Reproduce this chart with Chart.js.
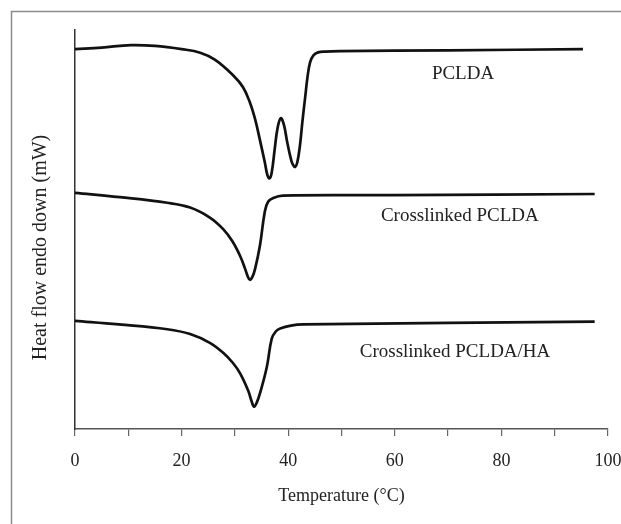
<!DOCTYPE html>
<html>
<head>
<meta charset="utf-8">
<script src="https://cdn.jsdelivr.net/npm/chart.js@4"></script>
<style>
  html, body { margin: 0; padding: 0; background: #fff; }
  canvas { display: block; }
</style>
</head>
<body>
<canvas id="dsc" width="621" height="524"></canvas>
<script>
// temperature (°C) and heat flow (arbitrary units, endo down)
const pcldaTemp = [0, 5, 10.5, 15, 20, 23.5, 26.3, 29.7, 31.5, 32.8, 33.8, 34.7, 35.6, 36.1, 36.5, 36.9, 37.5, 38.0, 38.6, 39.2, 39.8, 40.6, 41.0, 41.3, 41.7, 42.2, 42.7, 43.2, 43.6, 44.1, 44.7, 45.6, 47, 49.7, 70, 95.3];
const pcldaFlow = [95.2, 95.6, 96.2, 96.0, 95.2, 94.3, 92.5, 88.6, 85.7, 81.9, 77.6, 72.4, 66.9, 63.6, 62.8, 64.2, 70.5, 75.4, 77.9, 76.2, 72.0, 67.2, 66.0, 65.7, 66.8, 71.0, 77.5, 83.3, 88.0, 91.9, 93.6, 94.4, 94.6, 94.7, 94.9, 95.2];

const crossTemp = [0, 8.4, 17.3, 21.6, 25.3, 27.8, 29.5, 31.0, 31.9, 32.4, 32.8, 33.3, 33.8, 34.7, 35.6, 36.2, 37.2, 39, 60, 97.5];
const crossFlow = [59.2, 58.1, 56.7, 55.5, 53.0, 50.1, 47.1, 43.3, 40.2, 38.3, 37.4, 38.2, 40.2, 46.0, 54.4, 56.9, 57.9, 58.5, 58.6, 58.9];

const haTemp = [0, 8.2, 17.3, 21.6, 25.3, 27.8, 29.6, 31.0, 32.5, 33.1, 33.6, 34.1, 34.7, 36.0, 36.9, 37.7, 38.5, 40.5, 42.8, 97.5];
const haFlow = [27.1, 26.2, 25.0, 23.8, 21.6, 19.1, 16.6, 13.9, 9.6, 7.1, 5.6, 6.6, 8.9, 15.6, 22.6, 24.5, 25.2, 25.9, 26.2, 26.9];

const curveNames = ['PCLDA', 'Crosslinked PCLDA', 'Crosslinked PCLDA/HA'];
const labelTemp = [72.8, 72.2, 71.3];
const labelFlow = [89, 53.4, 19.3];

const yTitle = 'Heat flow endo down (mW)';
const serif = '"Liberation Serif", "DejaVu Serif", serif';

function toPoints(xs, ys) {
    return xs.map((x, i) => ({ x: x, y: ys[i] }));
}

// gray frame around the figure (left and top edges)
const framePlugin = {
    id: 'frame',
    beforeDraw(chart) {
        const ctx = chart.ctx;
        ctx.save();
        ctx.strokeStyle = '#8c8c8c';
        ctx.lineWidth = 1.5;
        ctx.beginPath();
        ctx.moveTo(11.5, chart.height);
        ctx.lineTo(11.5, 11.5);
        ctx.lineTo(chart.width, 11.5);
        ctx.stroke();
        ctx.restore();
    }
};

// curve names next to each trace + the y title (sits a bit below the axis middle)
const curveLabels = {
    id: 'curveLabels',
    afterDatasetsDraw(chart) {
        const ctx = chart.ctx;
        const xs = chart.scales.x, ys = chart.scales.y;
        ctx.save();
        ctx.font = '19px ' + serif;
        ctx.fillStyle = '#222';
        ctx.textAlign = 'center';
        ctx.textBaseline = 'middle';
        curveNames.forEach((name, i) => {
            ctx.fillText(name, xs.getPixelForValue(labelTemp[i]), ys.getPixelForValue(labelFlow[i]));
        });
        ctx.translate(41, (ys.top + ys.bottom) / 2 + 18);
        ctx.rotate(-Math.PI / 2);
        ctx.font = '20px ' + serif;
        ctx.fillText(yTitle, 0, 0);
        ctx.restore();
    }
};

const lineStyle = {
    borderColor: '#111',
    borderWidth: 2.7,
    pointRadius: 0,
    fill: false,
    tension: 0.4
};

new Chart(document.getElementById('dsc').getContext('2d'), {
    type: 'line',
    data: {
        datasets: [
            Object.assign({ label: curveNames[0], data: toPoints(pcldaTemp, pcldaFlow) }, lineStyle),
            Object.assign({ label: curveNames[1], data: toPoints(crossTemp, crossFlow) }, lineStyle),
            Object.assign({ label: curveNames[2], data: toPoints(haTemp, haFlow) }, lineStyle)
        ]
    },
    options: {
        responsive: false,
        animation: false,
        devicePixelRatio: 1,
        layout: { padding: { left: 0, top: 30, right: 13, bottom: 0 } },
        plugins: {
            legend: { display: false },
            tooltip: { enabled: false }
        },
        scales: {
            x: {
                type: 'linear',
                min: 0,
                max: 100,
                afterFit: function(scale) {
                    scale.height = 95;
                    scale.paddingLeft = 0;
                    scale.paddingRight = 0;
                },
                ticks: {
                    stepSize: 10,
                    autoSkip: false,
                    maxRotation: 0,
                    padding: 14,
                    color: '#222',
                    font: { family: serif, size: 18 },
                    callback: v => (v % 20 === 0 ? v : '')
                },
                grid: {
                    drawOnChartArea: false,
                    drawTicks: true,
                    tickLength: 7,
                    color: '#666',
                    lineWidth: 1.2
                },
                border: { color: '#555', width: 1.5 },
                title: {
                    display: true,
                    text: 'Temperature (°C)',
                    color: '#222',
                    font: { family: serif, size: 18 },
                    padding: { top: 0, bottom: 17 }
                }
            },
            y: {
                min: 0,
                max: 100,
                afterFit: function(scale) { scale.width = 75; },
                ticks: { display: false },
                grid: { display: false },
                border: { color: '#333', width: 1.5 },
                title: { display: false }
            }
        }
    },
    plugins: [framePlugin, curveLabels]
});
</script>
</body>
</html>
